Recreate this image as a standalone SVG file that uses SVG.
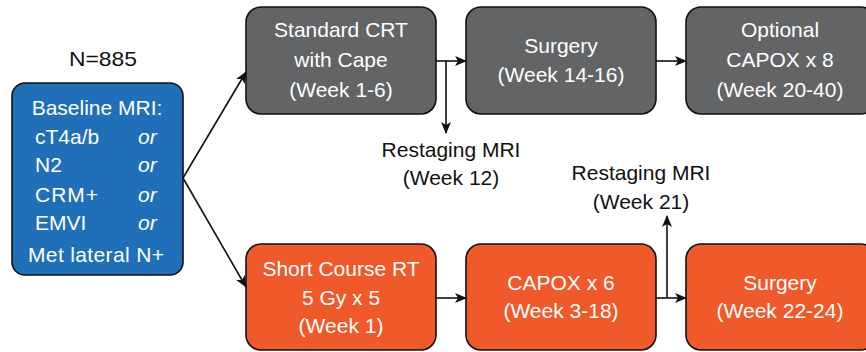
<svg xmlns="http://www.w3.org/2000/svg" width="866" height="352" viewBox="0 0 866 352">
<style>
text{font-family:"Liberation Sans",Arial,sans-serif;font-size:21px}
.w{fill:#fff}
.k{fill:#111}
.c{text-anchor:middle}
.box{stroke:#111;stroke-width:1.6}
.blue{fill:#1f70b8}
.gray{fill:#636466}
.org{fill:#f05a2b}
.ln{stroke:#111;stroke-width:1.6;fill:none;marker-end:url(#ah)}
</style>
<defs>
<marker id="ah" markerWidth="12" markerHeight="10" refX="11" refY="5" orient="auto" markerUnits="userSpaceOnUse">
<path d="M0,0 L12,5 L0,10 L3,5 Z" fill="#111"/>
</marker>
</defs>
<rect width="866" height="352" fill="#fff"/>
<g id="baseline">
<text class="k c" x="103" y="66" textLength="68" lengthAdjust="spacingAndGlyphs">N=885</text>
<rect class="box blue" x="12" y="83" width="171" height="192" rx="13"/>
<text class="w c" x="97" y="115">Baseline MRI:</text>
<text class="w" x="35" y="144">cT4a/b</text>
<text class="w" x="35" y="172">N2</text>
<text class="w" x="35" y="202" textLength="63" lengthAdjust="spacing">CRM+</text>
<text class="w" x="35" y="230">EMVI</text>
<text class="w" x="138" y="144" font-style="italic">or</text>
<text class="w" x="138" y="172" font-style="italic">or</text>
<text class="w" x="138" y="202" font-style="italic">or</text>
<text class="w" x="138" y="230" font-style="italic">or</text>
<text class="w c" x="96" y="262" textLength="136" lengthAdjust="spacing">Met lateral N+</text>
</g>
<g id="crt">
<rect class="box gray" x="246" y="7" width="190" height="107" rx="15"/>
<text class="w c" x="341" y="37">Standard CRT</text>
<text class="w c" x="341" y="67">with Cape</text>
<text class="w c" x="341" y="97">(Week 1-6)</text>
</g>
<g id="surgery1">
<rect class="box gray" x="466" y="7" width="190" height="107" rx="15"/>
<text class="w c" x="561" y="53">Surgery</text>
<text class="w c" x="561" y="82">(Week 14-16)</text>
</g>
<g id="capox8">
<rect class="box gray" x="686" y="7" width="190" height="107" rx="15"/>
<text class="w c" x="780" y="37">Optional</text>
<text class="w c" x="780" y="67">CAPOX x 8</text>
<text class="w c" x="780" y="97">(Week 20-40)</text>
</g>
<g id="restage12">
<text class="k c" x="451" y="157">Restaging MRI</text>
<text class="k c" x="451" y="185">(Week 12)</text>
</g>
<g id="shortrt">
<rect class="box org" x="246" y="244" width="190" height="106" rx="15"/>
<text class="w c" x="341" y="276">Short Course RT</text>
<text class="w c" x="341" y="305">5 Gy x 5</text>
<text class="w c" x="341" y="333">(Week 1)</text>
</g>
<g id="capox6">
<rect class="box org" x="466" y="244" width="190" height="106" rx="15"/>
<text class="w c" x="561" y="290">CAPOX x 6</text>
<text class="w c" x="561" y="318">(Week 3-18)</text>
</g>
<g id="surgery2">
<rect class="box org" x="686" y="244" width="190" height="106" rx="15"/>
<text class="w c" x="780" y="290">Surgery</text>
<text class="w c" x="780" y="318">(Week 22-24)</text>
</g>
<g id="restage21">
<text class="k c" x="641" y="180">Restaging MRI</text>
<text class="k c" x="641" y="209">(Week 21)</text>
</g>
<g id="connectors">
<path class="ln" d="M183,178 L246,72"/>
<path class="ln" d="M183,178 L246,287"/>
<path class="ln" d="M436,61 L466,61"/>
<path class="ln" d="M446,61 L446,133"/>
<path class="ln" d="M656,61 L686,61"/>
<path class="ln" d="M436,298 L466,298"/>
<path class="ln" d="M656,298 L686,298"/>
<path class="ln" d="M667,298 L667,216"/>
</g>
</svg>
